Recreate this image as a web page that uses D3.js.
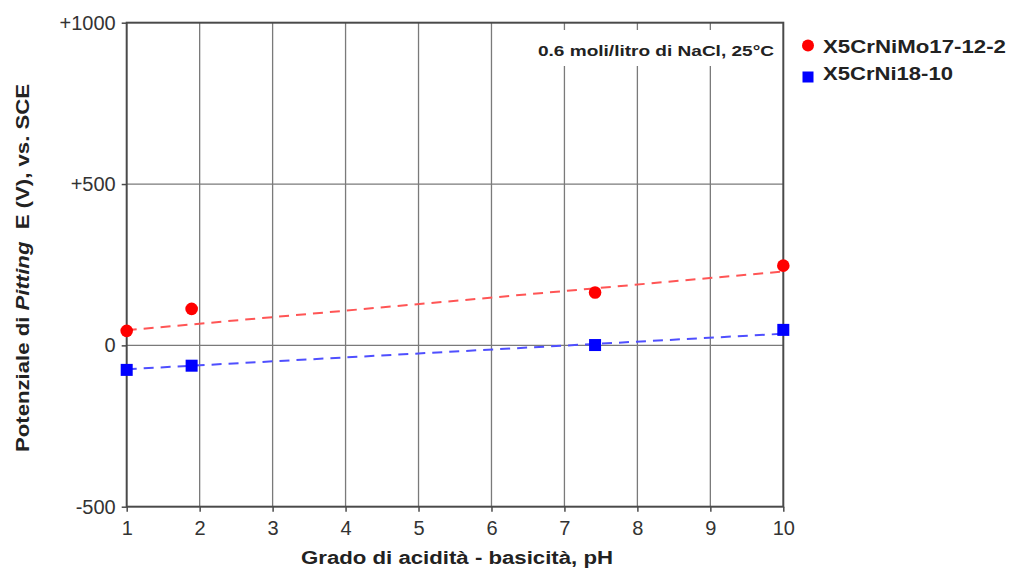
<!DOCTYPE html>
<html>
<head>
<meta charset="utf-8">
<script src="https://cdn.jsdelivr.net/npm/d3@7"></script>
<style>
  html, body { margin: 0; padding: 0; background: #fff; }
  svg { display: block; font-family: "Liberation Sans", Arial, Helvetica, sans-serif; }
</style>
</head>
<body>
<svg id="chart" width="1010" height="570"></svg>
<script>
// Pitting potential vs pH, 0.6 mol/l NaCl at 25 °C
const seriesNames = ["X5CrNiMo17-12-2", "X5CrNi18-10"];
const seriesColors = ["#ff0000", "#0000ff"];
const trendColors = ["#ff5555", "#4f4fff"];

const pH = [1, 1.89, 7.42, 10];
const moValues = [45, 113, 164, 247];      // X5CrNiMo17-12-2 (mV)
const niValues = [-76, -63, 1, 48];        // X5CrNi18-10 (mV)

// Trend line end points (pH 1 and pH 10)
const trendX = [1, 10];
const moTrend = [47, 229];
const niTrend = [-74, 36];

const xTicks = [1, 2, 3, 4, 5, 6, 7, 8, 9, 10];
const yTicks = [-500, 0, 500, 1000];
const yTickLabels = ["-500", "0", "+500", "+1000"];

const svg = d3.select("#chart");
const plotL = 126.7, plotR = 783.3, plotT = 22.7, plotB = 506.7;

const x = d3.scaleLinear().domain([1, 10]).range([plotL, plotR]);
const y = d3.scaleLinear().domain([-500, 1000]).range([plotB, plotT]);

// grid
const grid = svg.append("g");
grid.selectAll("line.v").data(xTicks.slice(1, -1)).join("line")
  .attr("x1", d => x(d)).attr("x2", d => x(d))
  .attr("y1", plotT).attr("y2", plotB)
  .attr("stroke", "#7a7a7a").attr("stroke-width", 1.3);
grid.selectAll("line.h").data([0, 500]).join("line")
  .attr("x1", plotL).attr("x2", plotR)
  .attr("y1", d => y(d)).attr("y2", d => y(d))
  .attr("stroke", "#7a7a7a").attr("stroke-width", 1.3);

// annotation box (hides grid beneath the text)
svg.append("rect").attr("x", 533).attr("y", 30).attr("width", 246).attr("height", 36).attr("fill", "#fff");
svg.append("text").attr("x", 538).attr("y", 55.5)
  .attr("font-size", 15).attr("font-weight", "bold").attr("fill", "#222")
  .attr("textLength", 236).attr("lengthAdjust", "spacingAndGlyphs")
  .text("0.6 moli/litro di NaCl, 25°C");

// plot frame
svg.append("rect").attr("x", plotL).attr("y", plotT).attr("width", plotR - plotL).attr("height", plotB - plotT)
  .attr("fill", "none").attr("stroke", "#4a4a4a").attr("stroke-width", 2);

// axes
const xAxis = d3.axisBottom(x).tickValues(xTicks).tickSize(5).tickPadding(9).tickFormat(d3.format("d"));
const gx = svg.append("g").attr("transform", `translate(0,${plotB})`).call(xAxis);
gx.select(".domain").remove();
gx.selectAll("line").attr("stroke", "#4a4a4a").attr("stroke-width", 1.5);
gx.selectAll("text").attr("font-size", 20).attr("fill", "#333").attr("font-family", "Liberation Sans, Arial, sans-serif");

const yAxis = d3.axisLeft(y).tickValues(yTicks).tickSize(5).tickPadding(6)
  .tickFormat((d, i) => yTickLabels[i]);
const gy = svg.append("g").attr("transform", `translate(${plotL},0)`).call(yAxis);
gy.select(".domain").remove();
gy.selectAll("line").attr("stroke", "#4a4a4a").attr("stroke-width", 1.5);
gy.selectAll("text").attr("font-size", 20).attr("fill", "#333").attr("font-family", "Liberation Sans, Arial, sans-serif");

// axis titles
svg.append("text").attr("x", 301).attr("y", 564)
  .attr("font-size", 17.5).attr("font-weight", "bold").attr("fill", "#222")
  .attr("textLength", 312).attr("lengthAdjust", "spacingAndGlyphs")
  .text("Grado di acidità - basicità, pH");

const yt = svg.append("text").attr("transform", "translate(28.5,452) rotate(-90)")
  .attr("font-size", 18).attr("font-weight", "bold").attr("fill", "#222")
  .attr("textLength", 368).attr("lengthAdjust", "spacingAndGlyphs");
yt.append("tspan").text("Potenziale di ");
yt.append("tspan").attr("font-style", "italic").text("Pitting");
yt.append("tspan").text("\u00a0\u00a0E (V), vs. SCE");

// trend lines
const line = d3.line().x((d, i) => x(trendX[i])).y(d => y(d));
[moTrend, niTrend].forEach((t, k) => {
  svg.append("path").datum(t).attr("d", line)
    .attr("fill", "none").attr("stroke", trendColors[k]).attr("stroke-width", 2)
    .attr("stroke-dasharray", "10,7");
});

// markers
svg.append("g").selectAll("circle").data(moValues).join("circle")
  .attr("cx", (d, i) => x(pH[i])).attr("cy", d => y(d)).attr("r", 6.3)
  .attr("fill", seriesColors[0]);
const sq = 12;
svg.append("g").selectAll("rect").data(niValues).join("rect")
  .attr("x", (d, i) => x(pH[i]) - sq / 2).attr("y", d => y(d) - sq / 2)
  .attr("width", sq).attr("height", sq).attr("fill", seriesColors[1]);

// legend
const legendWidths = [183, 130];
const lg = svg.append("g");
lg.append("circle").attr("cx", 808).attr("cy", 45.5).attr("r", 6).attr("fill", seriesColors[0]);
lg.append("rect").attr("x", 802.5).attr("y", 71.5).attr("width", 11).attr("height", 11).attr("fill", seriesColors[1]);
lg.selectAll("text").data(seriesNames).join("text")
  .attr("x", 823).attr("y", (d, i) => 52.5 + i * 27.5)
  .attr("font-size", 17.5).attr("font-weight", "bold").attr("fill", "#222")
  .attr("textLength", (d, i) => legendWidths[i]).attr("lengthAdjust", "spacingAndGlyphs")
  .text(d => d);
</script>
</body>
</html>
